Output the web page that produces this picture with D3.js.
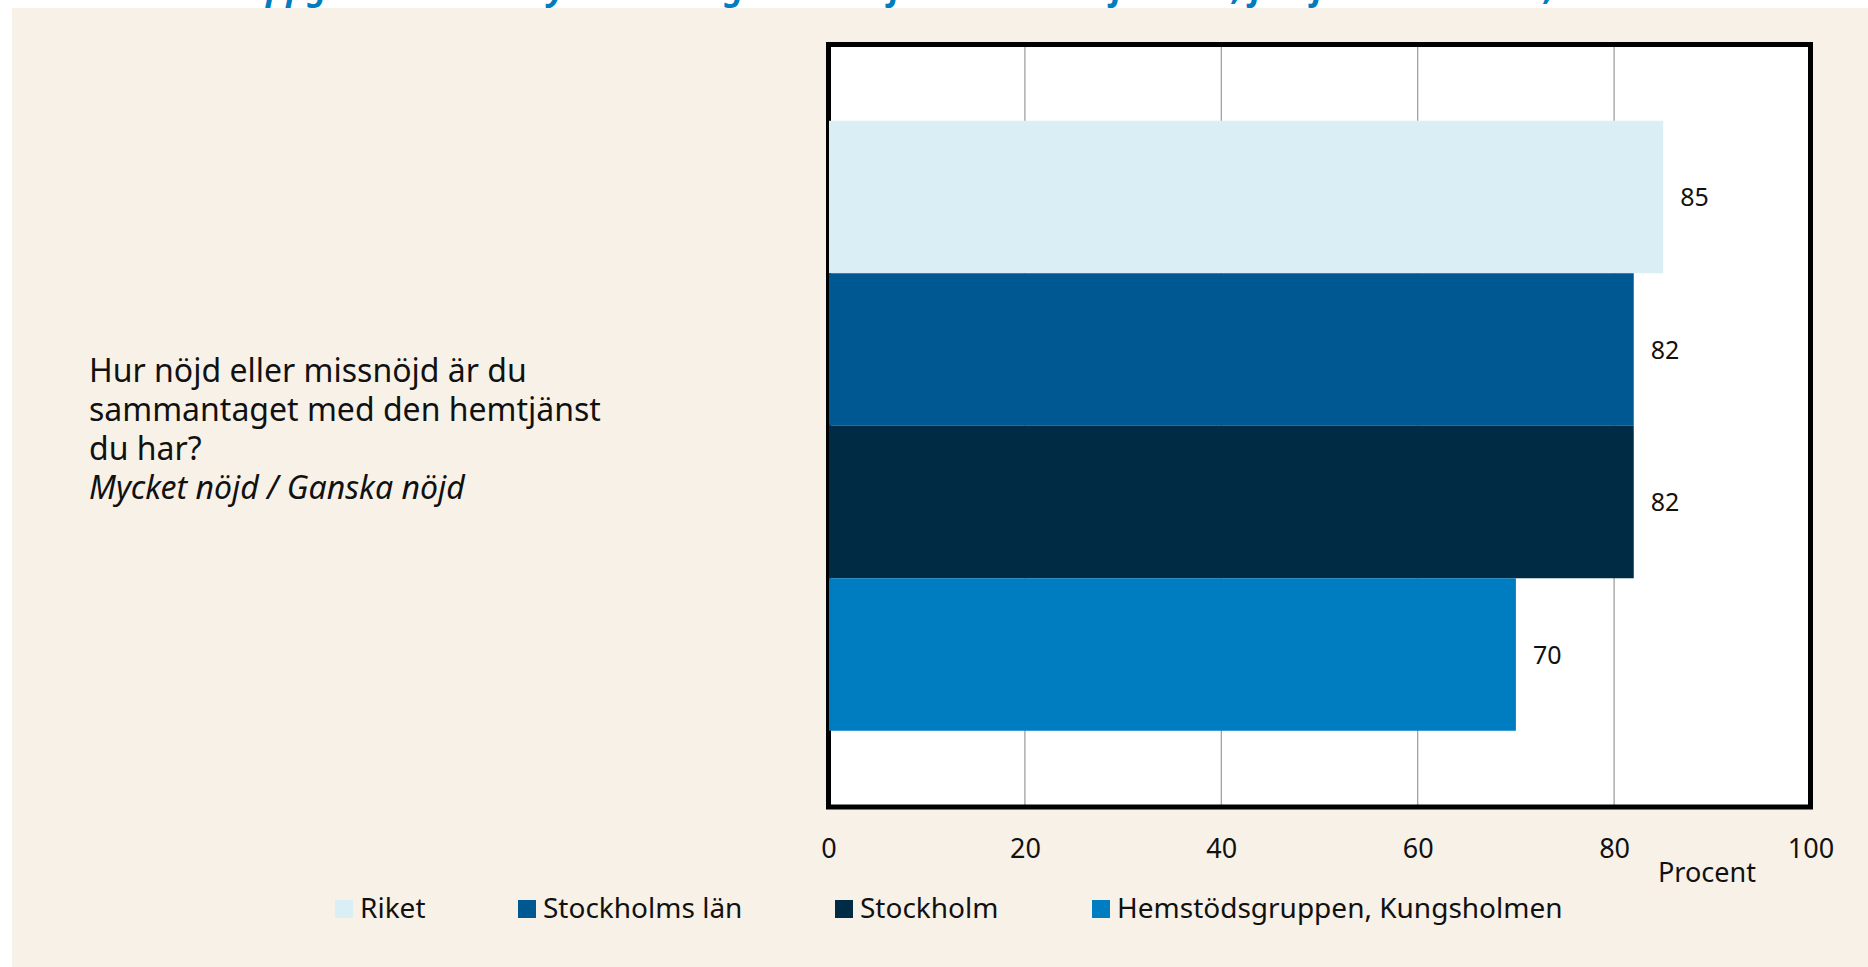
<!DOCTYPE html>
<html>
<head>
<meta charset="utf-8">
<script src="https://cdn.jsdelivr.net/npm/d3@7"></script>
<style>
    body { margin: 0; background: #ffffff; }
    svg { display: block; font-family: "Noto Sans", "Open Sans", sans-serif; }
</style>
</head>
<body>
<div id="chart"></div>
<script>
var categories = ["Riket", "Stockholms län", "Stockholm", "Hemstödsgruppen, Kungsholmen"];
var values = [85, 82, 82, 70];
var colors = ["#daeef6", "#005893", "#002b45", "#007cc1"];
var xTicks = [0, 20, 40, 60, 80, 100];
var questionLines = ["Hur nöjd eller missnöjd är du", "sammantaget med den hemtjänst", "du har?"];
var answerLine = "Mycket nöjd / Ganska nöjd";
var titleText = "Andel som uppger att de är mycket eller ganska nöjda med hemtjänsten, jämfört med länet, kommunen och riket";

var width = 1868, height = 967;

var svg = d3.select("#chart")
    .append("svg")
    .attr("width", width)
    .attr("height", height);

// title, mostly above the page, the panel covers the rest
svg.append("text")
    .attr("x", 70)
    .attr("y", 0)
    .attr("font-size", 34)
    .attr("font-weight", "bold")
    .attr("font-style", "italic")
    .attr("fill", "#007cc1")
    .text(titleText);

// beige panel
svg.append("rect")
    .attr("x", 12)
    .attr("y", 8)
    .attr("width", width - 12)
    .attr("height", height - 8)
    .attr("fill", "#f8f1e8");

var x = d3.scaleLinear()
    .domain([0, 100])
    .range([828.5, 1810.5]);

var y = d3.scaleBand()
    .domain(categories)
    .range([44.5, 807])
    .paddingInner(0)
    .paddingOuter(0.5);

var plotTop = y.range()[0], plotBottom = y.range()[1];

svg.append("rect")
    .attr("x", x(0))
    .attr("y", plotTop)
    .attr("width", x(100) - x(0))
    .attr("height", plotBottom - plotTop)
    .attr("fill", "#ffffff");

svg.selectAll(".grid")
    .data(xTicks.slice(1, -1))
    .enter()
    .append("line")
    .attr("class", "grid")
    .attr("x1", function (d) { return x(d); })
    .attr("x2", function (d) { return x(d); })
    .attr("y1", plotTop)
    .attr("y2", plotBottom)
    .attr("stroke", "#9a9a9a")
    .attr("stroke-width", 1.2);

svg.append("rect")
    .attr("x", x(0))
    .attr("y", plotTop)
    .attr("width", x(100) - x(0))
    .attr("height", plotBottom - plotTop)
    .attr("fill", "none")
    .attr("stroke", "#000000")
    .attr("stroke-width", 5);

svg.selectAll(".bar")
    .data(values)
    .enter()
    .append("rect")
    .attr("class", "bar")
    .attr("x", x(0) + 0.5)
    .attr("y", function (d, i) { return y(categories[i]); })
    .attr("width", function (d) { return x(d) - x(0) - 0.5; })
    .attr("height", y.bandwidth())
    .attr("fill", function (d, i) { return colors[i]; });

svg.selectAll(".value")
    .data(values)
    .enter()
    .append("text")
    .attr("class", "value")
    .attr("x", function (d) { return x(d) + 17; })
    .attr("y", function (d, i) { return y(categories[i]) + y.bandwidth() / 2 + 9; })
    .attr("font-size", 25)
    .attr("fill", "#111111")
    .text(function (d) { return d; });

// x axis labels below the frame
var xAxis = d3.axisBottom(x)
    .tickValues(xTicks)
    .tickSize(0)
    .tickPadding(0);

var axisG = svg.append("g")
    .attr("transform", "translate(0,838)")
    .call(xAxis);
axisG.select(".domain").remove();
axisG.selectAll("text")
    .attr("dy", 0)
    .attr("y", 20)
    .attr("font-size", 27)
    .attr("font-family", "Noto Sans, Open Sans, sans-serif")
    .attr("fill", "#111111");

svg.append("text")
    .attr("x", 1658)
    .attr("y", 882)
    .attr("font-size", 27)
    .attr("fill", "#111111")
    .text("Procent");

// question on the left
var q = svg.append("text")
    .attr("x", 89)
    .attr("y", 382)
    .attr("font-size", 32)
    .attr("fill", "#111111");
questionLines.forEach(function (line, i) {
    q.append("tspan")
        .attr("x", 89)
        .attr("dy", i === 0 ? 0 : 39)
        .text(line);
});
q.append("tspan")
    .attr("x", 89)
    .attr("dy", 39)
    .attr("font-style", "italic")
    .text(answerLine);

// legend
var legendX = [335, 518, 835, 1092];
var legend = svg.selectAll(".legend")
    .data(categories)
    .enter()
    .append("g")
    .attr("class", "legend")
    .attr("transform", function (d, i) { return "translate(" + legendX[i] + ",900)"; });

legend.append("rect")
    .attr("width", 18)
    .attr("height", 18)
    .attr("fill", function (d, i) { return colors[i]; });

legend.append("text")
    .attr("x", 25)
    .attr("y", 18)
    .attr("font-size", 28)
    .attr("fill", "#111111")
    .text(function (d) { return d; });
</script>
</body>
</html>
